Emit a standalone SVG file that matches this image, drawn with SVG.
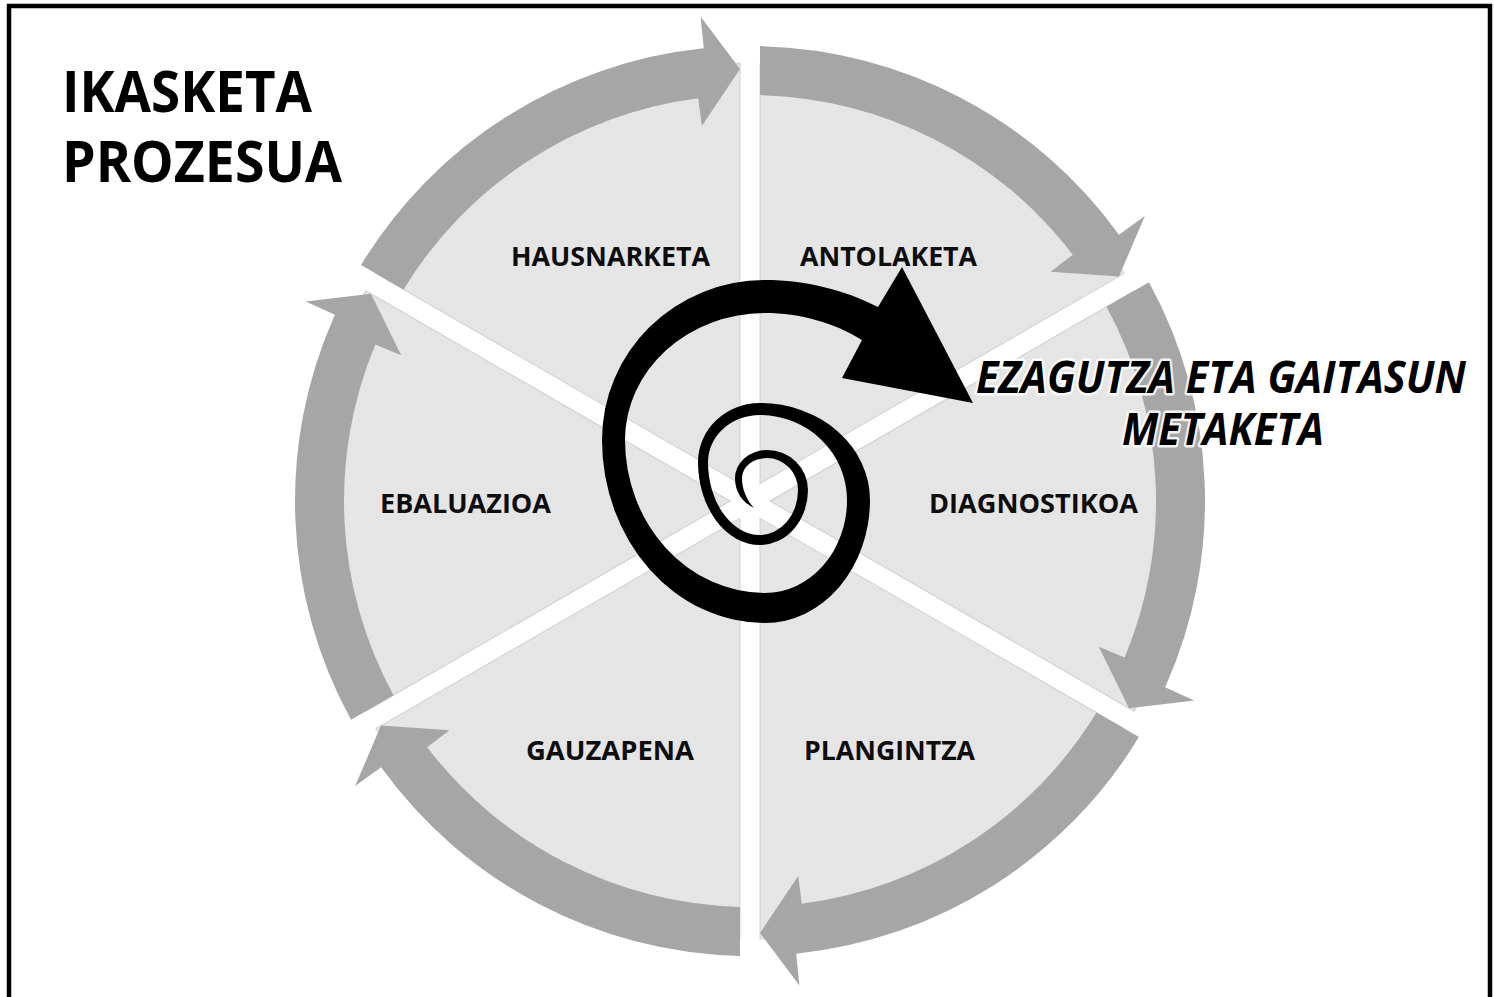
<svg xmlns="http://www.w3.org/2000/svg" width="1495" height="997" viewBox="0 0 1495 997">
<style>
.sector{fill:#e5e5e5;stroke:#cfcfcf;stroke-width:1}
.band{fill:#a6a6a6}
.lbl{font-family:"Open Sans","Liberation Sans",sans-serif;font-weight:bold;font-size:26px;fill:#0d0d0d}
.title{font-family:"Open Sans","Liberation Sans",sans-serif;font-weight:bold;font-size:58px;fill:#000}
.big{font-family:"Open Sans","Liberation Sans",sans-serif;font-weight:bold;font-style:italic;font-size:45px;fill:#000;stroke:#ffffff;stroke-opacity:0.85;stroke-width:5;stroke-linejoin:round;paint-order:stroke}
</style>
<defs>
<path id="sec" d="M 760 483.68 L 760 63.11 A 438 438 0 0 1 1124.22 273.4 Z"/>
<path id="arr" d="M 760 46.11 A 455 455 0 0 1 1118.91 234.67 L 1144.86 215.94 L 1119.03 276.4 L 1050.59 271.8 L 1072.85 254.82 A 406 406 0 0 0 760 95.12 Z"/>
</defs>
<rect x="0" y="0" width="1495" height="997" fill="#fff"/>
<rect x="9" y="6" width="1481" height="1010" fill="none" stroke="#000" stroke-width="4.5"/>

<g id="sectors">
<use href="#sec" class="sector"/>
<use href="#sec" class="sector" transform="rotate(60 750 501)"/>
<use href="#sec" class="sector" transform="rotate(120 750 501)"/>
<use href="#sec" class="sector" transform="rotate(180 750 501)"/>
<use href="#sec" class="sector" transform="rotate(240 750 501)"/>
<use href="#sec" class="sector" transform="rotate(300 750 501)"/>
</g>

<g id="connectors">
<use href="#arr" class="band"/>
<use href="#arr" class="band" transform="rotate(60 750 501)"/>
<use href="#arr" class="band" transform="rotate(120 750 501)"/>
<use href="#arr" class="band" transform="rotate(180 750 501)"/>
<use href="#arr" class="band" transform="rotate(240 750 501)"/>
<use href="#arr" class="band" transform="rotate(300 750 501)"/>
</g>

<g id="n-hausnarketa"><text class="lbl" x="511" y="266" textLength="199" lengthAdjust="spacingAndGlyphs">HAUSNARKETA</text></g>
<g id="n-antolaketa"><text class="lbl" x="800" y="266" textLength="177" lengthAdjust="spacingAndGlyphs">ANTOLAKETA</text></g>
<g id="n-diagnostikoa"><text class="lbl" x="929" y="513" textLength="209" lengthAdjust="spacingAndGlyphs">DIAGNOSTIKOA</text></g>
<g id="n-ebaluazioa"><text class="lbl" x="380" y="513" textLength="171" lengthAdjust="spacingAndGlyphs">EBALUAZIOA</text></g>
<g id="n-gauzapena"><text class="lbl" x="526" y="760" textLength="168" lengthAdjust="spacingAndGlyphs">GAUZAPENA</text></g>
<g id="n-plangintza"><text class="lbl" x="804" y="760" textLength="171" lengthAdjust="spacingAndGlyphs">PLANGINTZA</text></g>

<g id="spiral">
<path fill="#000" d="M 973 403 L 902 267 L 878 307 C 845 290 805 280 765 280 A 163 160 0 0 0 602 440 A 163 183 0 0 0 765 623 A 105 123 0 0 0 870 500 A 110 97 0 0 0 760 403 A 62 59 0 0 0 698 462 A 62 83 0 0 0 760 545 A 48 55 0 0 0 808 490 A 41 40 0 0 0 767 450 A 32 28 0 0 0 735 478 C 735 492 742 502 754 508 C 747 500 742 490 742 478 A 25 20 0 0 1 767 458 A 31 32 0 0 1 798 490 A 38 45 0 0 1 760 535 A 52 73 0 0 1 708 462 A 52 47 0 0 1 760 415 A 87 85 0 0 1 847 500 A 82 93 0 0 1 765 593 A 140 153 0 0 1 625 440 A 140 127 0 0 1 765 313 C 800 313 835 323 862 340 L 842 378 Z"/>
</g>

<g id="title">
<text class="title" x="62" y="112" textLength="250" lengthAdjust="spacingAndGlyphs">IKASKETA</text>
<text class="title" x="62" y="182" textLength="280" lengthAdjust="spacingAndGlyphs">PROZESUA</text>
</g>

<g id="n-ezagutza">
<text class="big" x="976" y="393" textLength="490" lengthAdjust="spacingAndGlyphs">EZAGUTZA ETA GAITASUN</text>
<text class="big" x="1122" y="445" textLength="202" lengthAdjust="spacingAndGlyphs">METAKETA</text>
</g>
</svg>
